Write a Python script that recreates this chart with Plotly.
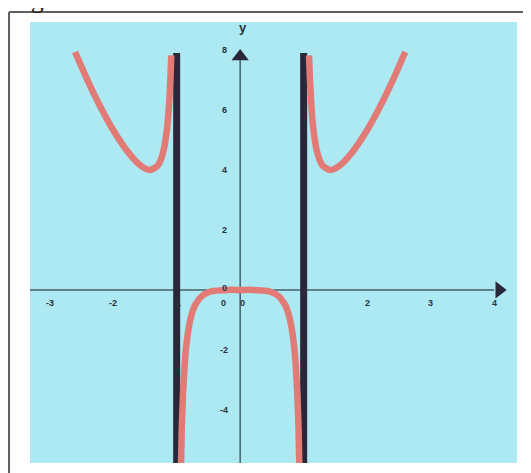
import plotly.graph_objects as go

# ---- data ----
left_x = [-2.6, -2.4, -2.2, -2.0, -1.8, -1.6, -1.5, -1.41, -1.3, -1.25, -1.2, -1.15, -1.12, -1.1, -1.085]
left_y = [7.93, 6.97, 6.10, 5.33, 4.69, 4.20, 4.05, 4.00, 4.14, 4.34, 4.71, 5.42, 6.19, 6.97, 7.82]

mid_x = [-0.94, -0.92, -0.9, -0.87, -0.85, -0.8, -0.75, -0.7, -0.6, -0.5, -0.4, -0.2, 0.0,
         0.2, 0.4, 0.5, 0.6, 0.7, 0.75, 0.8, 0.85, 0.87, 0.9, 0.92, 0.94]
mid_y = [-6.71, -4.66, -3.45, -2.36, -1.88, -1.14, -0.72, -0.47, -0.20, -0.08, -0.03, 0.00, 0.00,
         0.00, -0.03, -0.08, -0.20, -0.47, -0.72, -1.14, -1.88, -2.36, -3.45, -4.66, -6.71]

right_x = [1.085, 1.1, 1.12, 1.15, 1.2, 1.25, 1.3, 1.41, 1.5, 1.6, 1.8, 2.0, 2.2, 2.4, 2.6]
right_y = [7.82, 6.97, 6.19, 5.42, 4.71, 4.34, 4.14, 4.00, 4.05, 4.20, 4.69, 5.33, 6.10, 6.97, 7.93]

asymptote_x = [-1, 1]
asymptote_top = 7.9

x_tick_vals = [-3, -2, -1, 0, 2, 3, 4]
x_tick_text = ["-3", "-2", "-1", "0", "2", "3", "4"]
y_tick_vals = [8, 6, 4, 2, 0, -2, -4]
y_tick_text = ["8", "6", "4", "2", "0", "-2", "-4"]

X_RANGE = [-3.31, 4.36]
Y_RANGE = [-5.77, 8.93]

BG = "rgb(172,233,243)"
CURVE = "rgb(226,122,118)"
DARK = "rgb(42,40,56)"
AXIS = "rgb(70,95,105)"
LABEL = "rgb(40,52,60)"

fig = go.Figure()

# axes lines
fig.add_trace(go.Scatter(x=[X_RANGE[0], 4.0], y=[0, 0], mode="lines",
                         line=dict(color=AXIS, width=1.5), hoverinfo="skip"))
fig.add_trace(go.Scatter(x=[0, 0], y=[Y_RANGE[0], 7.9], mode="lines",
                         line=dict(color=AXIS, width=1.5), hoverinfo="skip"))

# asymptotes
for xa in asymptote_x:
    fig.add_trace(go.Scatter(x=[xa, xa], y=[asymptote_top, Y_RANGE[0]], mode="lines",
                             line=dict(color=DARK, width=7), hoverinfo="skip"))

# curve branches
for xs, ys in [(left_x, left_y), (mid_x, mid_y), (right_x, right_y)]:
    fig.add_trace(go.Scatter(x=xs, y=ys, mode="lines",
                             line=dict(color=CURVE, width=6.5, shape="spline", smoothing=0.6),
                             hoverinfo="skip"))

# arrow heads
fig.add_trace(go.Scatter(x=[4.08], y=[0], mode="markers",
                         marker=dict(symbol="triangle-right", size=15, color=DARK), hoverinfo="skip"))
fig.add_trace(go.Scatter(x=[0], y=[7.78], mode="markers",
                         marker=dict(symbol="triangle-up", size=15, color=DARK), hoverinfo="skip"))

tick_font = dict(size=9, color=LABEL, family="Liberation Sans")
annotations = []
for v, t in zip(x_tick_vals, x_tick_text):
    xv = v if v != 0 else -0.27
    annotations.append(dict(x=xv, y=-0.45, xref="x", yref="y", text=f"<b>{t}</b>", showarrow=False,
                            font=tick_font, xanchor="center", yanchor="middle"))
annotations.append(dict(x=0.03, y=-0.45, xref="x", yref="y", text="<b>0</b>", showarrow=False,
                        font=tick_font, xanchor="center", yanchor="middle"))
for v, t in zip(y_tick_vals, y_tick_text):
    annotations.append(dict(x=-0.25, y=v + 0.08 if v == 0 else v, xref="x", yref="y",
                            text=f"<b>{t}</b>", showarrow=False,
                            font=tick_font, xanchor="center", yanchor="middle"))
annotations.append(dict(x=0.05, y=8.75, xref="x", yref="y", text="<b>y</b>", showarrow=False,
                        font=dict(size=13, color=LABEL, family="Liberation Sans"),
                        xanchor="center", yanchor="middle"))
annotations.append(dict(x=-0.048, y=1.050, xref="paper", yref="paper", text="Fig 12", showarrow=False,
                        font=dict(size=26, color="rgb(30,30,30)", family="Liberation Serif"),
                        xanchor="left", yanchor="middle"))
annotations.append(dict(x=-0.045, y=0.905, xref="paper", yref="paper", text="c)", showarrow=False,
                        font=dict(size=22, color="rgb(60,60,60)", family="Liberation Serif"),
                        xanchor="right", yanchor="middle"))

shapes = [
    dict(type="line", xref="paper", yref="paper", x0=-0.0431, x1=-0.0431, y0=1.0227, y1=-0.05,
         line=dict(color="rgb(95,95,95)", width=2)),
    dict(type="line", xref="paper", yref="paper", x0=-0.0431, x1=1.05, y0=1.0227, y1=1.0227,
         line=dict(color="rgb(95,95,95)", width=2)),
]

fig.update_layout(
    width=523, height=465,
    margin=dict(l=22, r=14, t=14, b=10),
    paper_bgcolor="white",
    plot_bgcolor=BG,
    showlegend=False,
    xaxis=dict(range=X_RANGE, visible=False, fixedrange=True),
    yaxis=dict(range=Y_RANGE, visible=False, fixedrange=True),
    annotations=annotations,
    shapes=shapes,
)

fig.write_html("out.html")
